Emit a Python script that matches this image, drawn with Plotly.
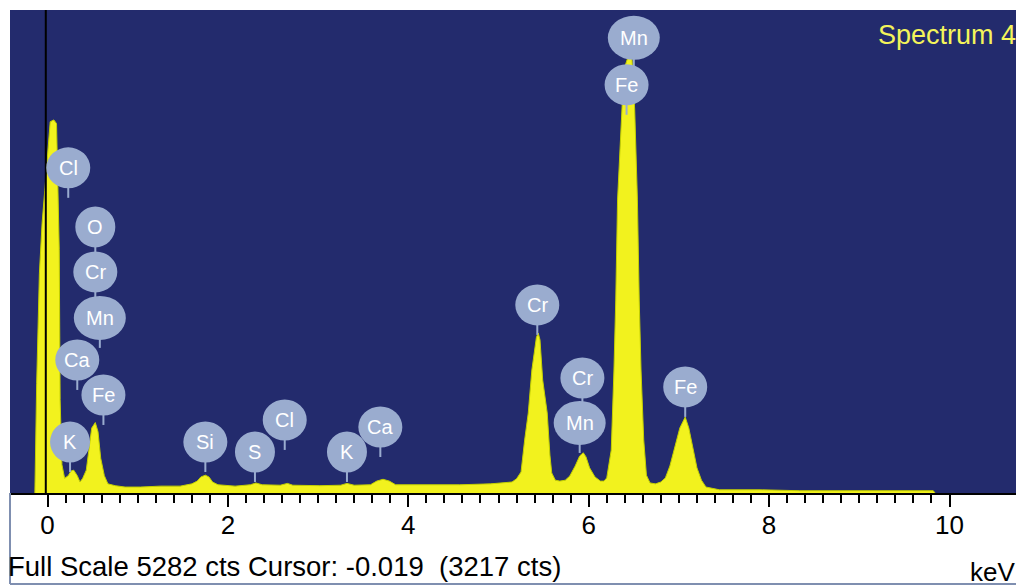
import plotly.graph_objects as go

# ---- data ----
energy_kev = [-0.14, -0.12, -0.09, -0.06, -0.03, 0.01, 0.03, 0.07, 0.10, 0.13, 0.14, 0.16,
              0.19, 0.23, 0.26, 0.29, 0.33, 0.36, 0.39, 0.43, 0.46, 0.49, 0.53, 0.56, 0.59,
              0.63, 0.67, 0.75, 0.86, 1.03, 1.25, 1.47, 1.60, 1.66, 1.70, 1.75, 1.79, 1.83,
              1.89, 2.08, 2.25, 2.31, 2.38, 2.58, 2.66, 2.72, 3.02, 3.25, 3.32, 3.40, 3.58,
              3.65, 3.72, 3.79, 3.86, 4.13, 4.57, 4.91, 5.10,
              5.15, 5.20, 5.25, 5.29, 5.33, 5.37, 5.42, 5.44, 5.46, 5.49, 5.54, 5.57, 5.59,
              5.63, 5.68,
              5.74, 5.79, 5.85, 5.90, 5.94, 5.97, 6.01, 6.07, 6.13, 6.17,
              6.20, 6.25, 6.28, 6.30, 6.32, 6.36, 6.39, 6.44, 6.48, 6.51, 6.54, 6.56, 6.58,
              6.61, 6.64, 6.68, 6.74,
              6.80, 6.85, 6.90, 6.96, 7.01, 7.07, 7.11, 7.16, 7.20, 7.25, 7.30, 7.45, 7.90,
              8.34, 9.01, 9.82, 9.84]
counts = [0, 1200, 2400, 2950, 3310, 3750, 4060, 4080, 4040, 2660, 1020, 310,
          160, 190, 240, 250, 190, 120, 160, 250, 490, 710, 770, 670, 380,
          190, 100, 80, 65, 65, 75, 75, 100, 130, 175, 195, 175, 120,
          90, 75, 90, 110, 90, 85, 105, 85, 80, 85, 105, 85, 90,
          130, 150, 130, 90, 90, 90, 100, 110,
          120, 155, 230, 580, 875, 1345, 1700, 1750, 1675, 1235, 875, 415, 220,
          140, 130,
          140, 185, 295, 405, 440, 395, 275, 175, 130, 130,
          165, 470, 1345, 2110, 3205, 4080, 4630, 4780, 4740, 4190, 3205, 2110, 1345,
          580, 195, 110, 100,
          120, 165, 295, 505, 710, 830, 710, 470, 275, 140, 65, 35, 35,
          25, 25, 25, 0]

label_elements = ["Cl", "O", "Cr", "Mn", "Ca", "Fe", "K",
                  "Si", "S", "Cl", "K", "Ca",
                  "Cr", "Cr", "Mn", "Fe", "Mn", "Fe"]
label_energy = [0.23, 0.53, 0.53, 0.58, 0.33, 0.62, 0.25,
                1.75, 2.30, 2.63, 3.32, 3.69,
                5.43, 5.93, 5.90, 7.07, 6.50, 6.42]
label_counts = [3556, 2910, 2418, 1915, 1455, 1072, 558,
                558, 449, 799, 449, 722,
                2057, 1258, 766, 1160, 4978, 4464]

full_scale_cts = 5282
cursor_kev = -0.019
cursor_cts = 3217
spectrum_name = "Spectrum 4"
tick_values = [0, 2, 4, 6, 8, 10]
tick_labels = ["0", "2", "4", "6", "8", "10"]

# ---- styling ----
NAVY = "#232b6d"
YELLOW = "#f2f21e"
BUBBLE = "#9aaccf"
FONT = "Liberation Sans, Arial, sans-serif"
W, H = 1016, 588
ML, MR, MT, MB = 10, 0, 10, 95
plot_w = W - ML - MR
plot_h = H - MT - MB

fig = go.Figure()
fig.add_trace(go.Scatter(
    x=energy_kev, y=counts, mode="lines", fill="tozeroy",
    line=dict(color="#c4d000", width=1), fillcolor=YELLOW,
    hoverinfo="skip", showlegend=False))

shapes = []
# cursor line
shapes.append(dict(type="line", xref="x", yref="paper", x0=cursor_kev, x1=cursor_kev,
                   y0=0, y1=1, line=dict(color="black", width=2), layer="above"))
# label stems
for el, e, c in zip(label_elements, label_energy, label_counts):
    shapes.append(dict(type="line", xref="x", yref="y", x0=e, x1=e,
                       ysizemode="pixel", yanchor=c, y0=-30, y1=0,
                       line=dict(color=BUBBLE, width=2), layer="above"))
# label bubbles
for el, e, c in zip(label_elements, label_energy, label_counts):
    w = 52 if el == "Mn" else (40 if len(el) == 1 else 44)
    h = 44 if el == "Mn" else 41
    shapes.append(dict(type="circle", xref="x", yref="y",
                       xsizemode="pixel", ysizemode="pixel", xanchor=e, yanchor=c,
                       x0=-w / 2, x1=w / 2, y0=-h / 2, y1=h / 2,
                       fillcolor=BUBBLE, line=dict(width=0), layer="above"))
# frame below plot
fb = -(H - 4 - (MT + plot_h)) / plot_h
shapes.append(dict(type="line", xref="paper", yref="paper", x0=0, x1=0, y0=0, y1=fb,
                   line=dict(color="#7f8fb0", width=2)))
shapes.append(dict(type="line", xref="paper", yref="paper", x0=0, x1=1, y0=fb, y1=fb,
                   line=dict(color="#7f8fb0", width=2)))

annotations = []
for el, e, c in zip(label_elements, label_energy, label_counts):
    annotations.append(dict(x=e, y=c, xref="x", yref="y", text=el, showarrow=False,
                            font=dict(family=FONT, size=20, color="white"),
                            xanchor="center", yanchor="middle"))


def px_x(px):
    return (px - ML) / plot_w


def px_y(py):
    return (MT + plot_h - py) / plot_h


annotations.append(dict(
    x=px_x(6), y=px_y(566), xref="paper", yref="paper", xanchor="left", yanchor="middle",
    text=f"Full Scale {full_scale_cts} cts Cursor: {cursor_kev:.3f}\u00a0 ({cursor_cts} cts)",
    showarrow=False, font=dict(family=FONT, size=27.5, color="black")))
annotations.append(dict(
    x=px_x(968), y=px_y(572), xref="paper", yref="paper", xanchor="left", yanchor="middle",
    text="keV", showarrow=False, font=dict(family=FONT, size=26, color="black")))
annotations.append(dict(
    x=px_x(876), y=px_y(35), xref="paper", yref="paper", xanchor="left", yanchor="middle",
    text=spectrum_name, showarrow=False, font=dict(family=FONT, size=27, color="#f4f45a")))

minor_vals = [round(i * 0.2, 1) for i in range(0, 51)]

fig.update_layout(
    width=W, height=H,
    margin=dict(l=ML, r=MR, t=MT, b=MB, pad=0),
    paper_bgcolor="white", plot_bgcolor=NAVY,
    shapes=shapes, annotations=annotations,
    xaxis=dict(range=[(ML - 47.5) / 90.2, (W - 47.5) / 90.2],
               tickvals=tick_values, ticktext=tick_labels,
               ticks="outside", ticklen=12, tickwidth=2, tickcolor="black",
               ticklabelstandoff=-4,
               tickfont=dict(family=FONT, size=26, color="black"),
               showline=True, linecolor="black", linewidth=2,
               showgrid=False, zeroline=False,
               minor=dict(tickvals=minor_vals, ticks="outside", ticklen=8,
                          tickwidth=2, tickcolor="black", showgrid=False)),
    yaxis=dict(range=[0, full_scale_cts], visible=False, showgrid=False, zeroline=False),
    showlegend=False,
)

fig.write_html("out.html", config={"displayModeBar": False},
               post_script="document.body.style.margin='0';document.body.style.overflow='hidden';")
